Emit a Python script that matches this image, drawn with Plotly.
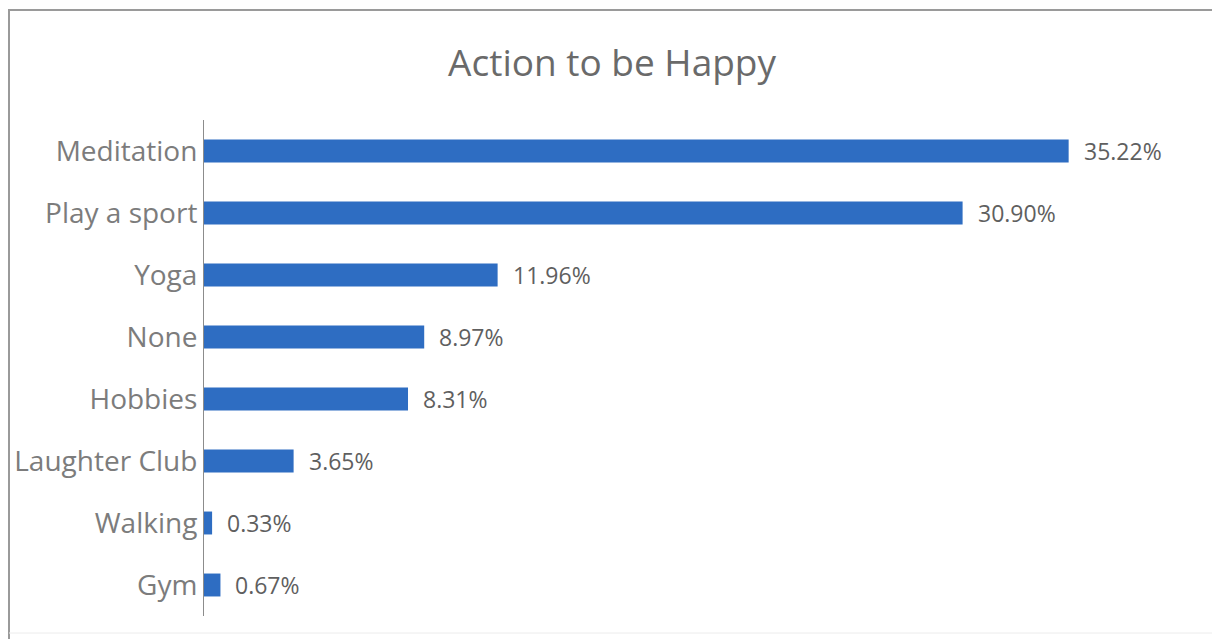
import plotly.graph_objects as go

# Survey results: share of respondents per activity
activities = ["Meditation", "Play a sport", "Yoga", "None", "Hobbies",
              "Laughter Club", "Walking", "Gym"]
shares = [35.22, 30.90, 11.96, 8.97, 8.31, 3.65, 0.33, 0.67]
share_labels = [f"{v:.2f}%" for v in shares]

W, H = 1212, 639
L, R, T, B = 204, 26, 120, 23
BAR_BLUE = "#2E6DC2"
FONT = "Open Sans"

fig = go.Figure(
    go.Bar(
        x=shares,
        y=activities,
        orientation="h",
        marker=dict(color=BAR_BLUE, line=dict(width=0)),
        width=0.37,
        hoverinfo="skip",
    )
)

# value labels to the right of each bar
for cat, val, lab in zip(activities, shares, share_labels):
    fig.add_annotation(
        x=val, y=cat, text=lab, xref="x", yref="y",
        xanchor="left", yanchor="middle", xshift=13, showarrow=False,
        font=dict(family=FONT, size=23, color="#5f5f5f"),
    )

# chart frame (outer border of the chart area)
pw, ph = W - L - R, H - T - B
def px_x(p):
    return (p - L) / pw
def px_y(p):
    return (H - B - p) / ph

fig.add_shape(type="line", xref="paper", yref="paper",
              x0=px_x(8), x1=px_x(1212), y0=px_y(10), y1=px_y(10),
              line=dict(color="#9a9a9a", width=2), layer="above")
fig.add_shape(type="line", xref="paper", yref="paper",
              x0=px_x(9), x1=px_x(9), y0=px_y(10), y1=px_y(639),
              line=dict(color="#9a9a9a", width=2), layer="above")
fig.add_shape(type="line", xref="paper", yref="paper",
              x0=px_x(9), x1=px_x(1212), y0=px_y(633), y1=px_y(633),
              line=dict(color="#ececec", width=1), layer="above")

fig.update_layout(
    width=W, height=H,
    margin=dict(l=L, r=R, t=T, b=B, pad=0),
    paper_bgcolor="white", plot_bgcolor="white",
    title=dict(text="Action to be Happy", x=0.505, xanchor="center",
               y=1 - 63 / H, yanchor="middle", yref="container",
               font=dict(family=FONT, size=37, color="#6a6a6a")),
    showlegend=False,
    bargap=0.63,
)
fig.update_xaxes(range=[0, 40], visible=False, showgrid=False, zeroline=False)
fig.update_yaxes(
    autorange="reversed", showgrid=False, zeroline=False,
    showline=True, linecolor="#8c8c8c", linewidth=1,
    ticks="", ticklabelstandoff=0,
    tickfont=dict(family=FONT, size=28, color="#7c7c7c"),
)

fig.write_html("out.html")
